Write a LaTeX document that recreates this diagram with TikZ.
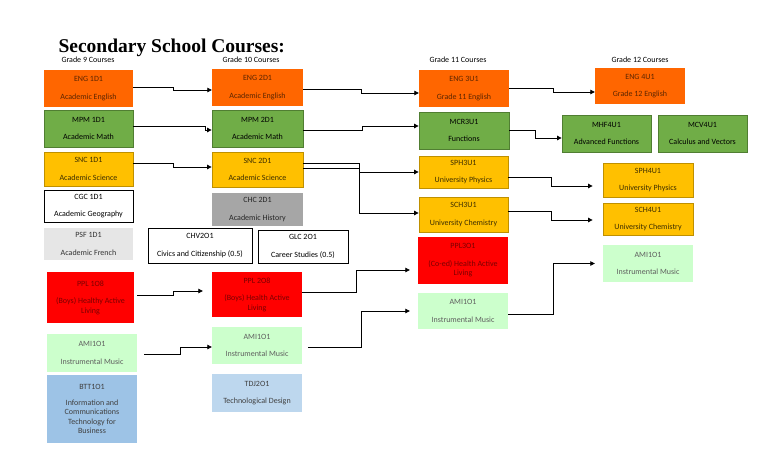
\documentclass[tikz,border=0pt]{standalone}
\usepackage{fontspec}
\setmainfont{Carlito}
\newfontfamily\titlefont{Liberation Serif}
\usetikzlibrary{arrows.meta}

\definecolor{engfill}{HTML}{FF6600}
\definecolor{engtext}{HTML}{5C2600}
\definecolor{mathfill}{HTML}{70AD47}
\definecolor{mathline}{HTML}{507E32}
\definecolor{scifill}{HTML}{FFC000}
\definecolor{sciline}{HTML}{BF9000}
\definecolor{scitext}{HTML}{3D2E00}
\definecolor{healthfill}{HTML}{FF0000}
\definecolor{healthtext}{HTML}{7A0000}
\definecolor{musicfill}{HTML}{CCFFCC}
\definecolor{musictext}{HTML}{5F5F5F}
\definecolor{frenchfill}{HTML}{E6E6E6}
\definecolor{historyfill}{HTML}{A6A6A6}
\definecolor{techfill}{HTML}{9DC3E6}
\definecolor{designfill}{HTML}{BDD7EE}

\begin{document}
\begin{tikzpicture}[
        x=1pt, y=-1pt,
        font=\fontsize{8}{9.5}\selectfont,
        course/.style={align=center, inner sep=1pt},
        engbox/.style={course, fill=engfill, text=engtext},
        mathbox/.style={course, fill=mathfill, draw=mathline, line width=0.8pt},
        scibox/.style={course, fill=scifill, draw=sciline, line width=0.8pt, text=scitext},
        plainbox/.style={course, fill=white, draw=black, line width=0.8pt},
        healthbox/.style={course, fill=healthfill, text=healthtext},
        musicbox/.style={course, fill=musicfill, text=musictext},
        link/.style={line width=0.8pt, -{Triangle[length=4.5pt,width=4.5pt]}}
    ]
        \useasboundingbox (0,0) rectangle (768,466);

        \node[anchor=base west, font=\titlefont\bfseries\fontsize{19.5}{21}\selectfont]
            (title) at (55,52) {Secondary School Courses:};

        % grade headings
        \node (grade9) at (88,60) {Grade 9 Courses};
        \node (grade10) at (251,60) {Grade 10 Courses};
        \node (grade11) at (458,60) {Grade 11 Courses};
        \node (grade12) at (640,60) {Grade 12 Courses};

        % grade 9
        \node[engbox, minimum width=89, minimum height=37]
            (eng9) at (88.5,88.5) {ENG 1D1\\[8pt]Academic English};
        \node[mathbox, minimum width=89, minimum height=37]
            (mpm9) at (88.5,128.5) {MPM 1D1\\[8pt]Academic Math};
        \node[scibox, minimum width=89, minimum height=34]
            (snc9) at (88.5,169) {SNC 1D1\\[8pt]Academic Science};
        \node[plainbox, minimum width=89, minimum height=32]
            (cgc9) at (88.5,206) {CGC 1D1\\[8pt]Academic Geography};
        \node[course, fill=frenchfill, text=black!80, minimum width=89, minimum height=32]
            (psf9) at (88.5,244) {PSF 1D1\\[8pt]Academic French};
        \node[healthbox, minimum width=87, minimum height=51]
            (ppl9) at (90.5,297.5) {PPL 1O8\\[8pt](Boys) Healthy Active\\Living};
        \node[musicbox, minimum width=90, minimum height=38]
            (ami9) at (92,353) {AMI1O1\\[8pt]Instrumental Music};
        \node[course, fill=techfill, text=black!75, minimum width=90, minimum height=68]
            (btt9) at (92,409) {BTT1O1\\[6pt]Information and\\Communications\\Technology for\\Business};

        % grade 10
        \node[engbox, minimum width=91, minimum height=37]
            (eng10) at (257.5,87.5) {ENG 2D1\\[8pt]Academic English};
        \node[mathbox, minimum width=91, minimum height=37]
            (mpm10) at (257.5,128.5) {MPM 2D1\\[8pt]Academic Math};
        \node[scibox, minimum width=91, minimum height=35]
            (snc10) at (257.5,169.5) {SNC 2D1\\[8pt]Academic Science};
        \node[course, fill=historyfill, text=black!85, minimum width=91, minimum height=33]
            (chc10) at (257.5,209.5) {CHC 2D1\\[8pt]Academic History};
        \node[plainbox, minimum width=104, minimum height=35]
            (chv10) at (200,245.5) {CHV2O1\\[8pt]Civics and Citizenship (0.5)};
        \node[plainbox, minimum width=90, minimum height=33]
            (glc10) at (303,246.5) {GLC 2O1\\[8pt]Career Studies (0.5)};
        \node[healthbox, minimum width=90, minimum height=45]
            (ppl10) at (257,294.5) {PPL 2O8\\[8pt](Boys) Health Active\\Living};
        \node[musicbox, minimum width=90, minimum height=37]
            (ami10) at (257,345.5) {AMI1O1\\[8pt]Instrumental Music};
        \node[course, fill=designfill, text=black!75, minimum width=90, minimum height=38]
            (tdj10) at (257,393) {TDJ2O1\\[8pt]Technological Design};

        % grade 11
        \node[engbox, minimum width=90, minimum height=37]
            (eng11) at (464,88.5) {ENG 3U1\\[8pt]Grade 11 English};
        \node[mathbox, minimum width=90, minimum height=37]
            (mcr11) at (464,130.5) {MCR3U1\\[8pt]Functions};
        \node[scibox, minimum width=89, minimum height=32]
            (sph11) at (463.5,172) {SPH3U1\\[8pt]University Physics};
        \node[scibox, minimum width=89, minimum height=35]
            (sch11) at (463.5,214.5) {SCH3U1\\[8pt]University Chemistry};
        \node[healthbox, minimum width=90, minimum height=47]
            (ppl11) at (463,260.5) {PPL3O1\\[8pt](Co-ed) Health Active\\Living};
        \node[musicbox, minimum width=90, minimum height=36]
            (ami11) at (463,311) {AMI1O1\\[8pt]Instrumental Music};

        % grade 12
        \node[engbox, minimum width=90, minimum height=36]
            (eng12) at (640,86) {ENG 4U1\\[8pt]Grade 12 English};
        \node[mathbox, minimum width=89, minimum height=37]
            (mhf12) at (606.5,133.5) {MHF4U1\\[8pt]Advanced Functions};
        \node[mathbox, minimum width=89, minimum height=37]
            (mcv12) at (702.5,133.5) {MCV4U1\\[8pt]Calculus and Vectors};
        \node[scibox, minimum width=90, minimum height=34]
            (sph12) at (648,180) {SPH4U1\\[8pt]University Physics};
        \node[scibox, minimum width=90, minimum height=32]
            (sch12) at (648,219) {SCH4U1\\[8pt]University Chemistry};
        \node[musicbox, minimum width=90, minimum height=37]
            (ami12) at (648,263.5) {AMI1O1\\[8pt]Instrumental Music};

        % grade 9 to grade 10
        \draw[link] ([yshift=1.5pt]eng9.east) -- ++(40,0) |- ([yshift=-2.5pt]eng10.west);
        \draw[link] ([yshift=2.5pt]mpm9.east) -- ++(72,0) |- ([yshift=-1.5pt]mpm10.west);
        \draw[link] ([yshift=6pt]snc9.east) -- ++(40,0) |- ([yshift=2.5pt]snc10.west);
        \draw[link] ([xshift=3pt,yshift=2.5pt]ppl9.east) -- ++(36,0) |- ([xshift=-9pt,yshift=3.5pt]ppl10.west);
        \draw[link] ([xshift=7pt,yshift=-1pt]ami9.east) -- ++(36,0) |- ([yshift=-1.5pt]ami10.west);

        % grade 10 to grade 11
        \draw[link] ([yshift=-1.5pt]eng10.east) -- ++(58,0) |- ([yshift=-4.5pt]eng11.west);
        \draw[link] ([yshift=-1.5pt]mpm10.east) -- ++(59,0) |- ([yshift=4.5pt]mcr11.west);
        \draw[link] ([yshift=6.5pt]snc10.east) -- ++(56,0) |- (sph11.west);
        \draw[link] ([yshift=1.5pt]snc10.east) -- ++(56,0) |- ([yshift=1.5pt]sch11.west);
        \draw[link] ([yshift=2.5pt]ppl10.east) -- ++(54,0) |- ([xshift=-8pt,yshift=-9.5pt]ppl11.west);
        \draw[link] ([xshift=6pt,yshift=-1.5pt]ami10.east) -- ++(53,0) |- ([xshift=-8pt]ami11.west);

        % grade 11 to grade 12
        \draw[link] ([yshift=0.5pt]eng11.east) -- ++(44,0) |- ([yshift=-6pt]eng12.west);
        \draw[link] (mcr11.east) -- ++(26,0) |- ([yshift=-4.5pt]mhf12.west);
        \draw[link] ([yshift=-5pt]sph11.east) -- ++(43,0) |- ([xshift=-10pt,yshift=-6pt]sph12.west);
        \draw[link] ([yshift=3.5pt]sch11.east) -- ++(43,0) |- ([xshift=-10pt,yshift=-1pt]sch12.west);
        \draw[link] ([yshift=-3pt]ami11.east) -- ++(45,0) |- ([xshift=-8pt]ami12.west);
    \end{tikzpicture}
\end{document}
